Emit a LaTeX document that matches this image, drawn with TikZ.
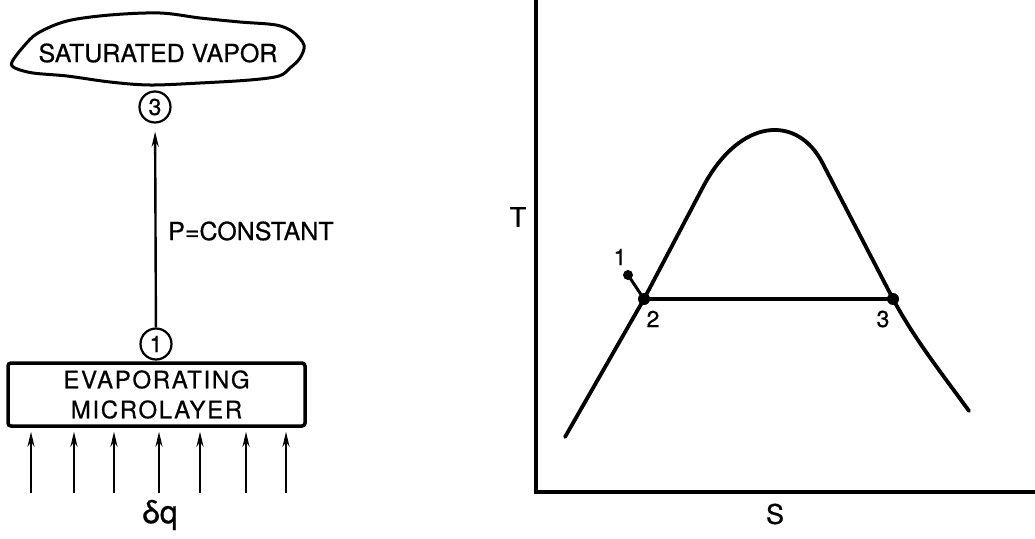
\documentclass[tikz,border=0pt]{standalone}
\usepackage{fontspec}
\setmainfont[FakeBold=0.6]{TeX Gyre Heros}
\usetikzlibrary{arrows.meta}
\begin{document}
\begin{tikzpicture}[x=1pt,y=-1pt,
  heavy/.style={line width=3.8pt,line cap=round,line join=round},
  thinarrow/.style={line width=2.4pt,-{Stealth[length=15pt,width=7pt]}},
  state/.style={draw,circle,line width=2.2pt,minimum size=31pt,inner sep=0pt,font=\fontsize{23}{24}\selectfont},
  lbl/.style={inner sep=0pt,font=\fontsize{25}{28}\selectfont},
  axlbl/.style={inner sep=0pt,font=\fontsize{27}{30}\selectfont},
  ptlbl/.style={inner sep=0pt,font=\fontsize{23}{24}\selectfont},
  dot/.style={circle,fill,inner sep=0pt,minimum size=12pt}
]
\useasboundingbox (0,0) rectangle (1035,538);

% ---------- left: cloud ----------
\draw[line width=3pt,line join=round]
  plot[smooth cycle,tension=0.55] coordinates {
   (12,62) (24,46) (38,33) (67,21) (110,15) (160,13) (200,18) (240,22)
   (276,25) (293,32) (304,45) (300,58) (290,68) (279,76) (250,80)
   (200,83) (150,85) (110,82) (67,76) (33,73) (15,68)};
\node[lbl] (vap) at (158,53) {SATURATED VAPOR};

% ---------- states ----------
\node[state] (c3) at (155,107) {3};
\node[state] (c1) at (156,344) {1};
\draw[thinarrow,shorten >=8pt] (c1) -- (c3);
\node[lbl,anchor=west] (pc) at (168,231) {P=CONSTANT};

% ---------- microlayer box ----------
\node[draw,line width=3.5pt,rounded corners=3pt,minimum width=297pt,minimum height=63pt,
      inner sep=0pt,align=center,font=\fontsize{24}{30}\selectfont\addfontfeatures{LetterSpace=7}]
  (box) at (156.5,394.5) {EVAPORATING\\MICROLAYER};

\foreach \i/\xx in {1/31,2/74,3/114,4/159,5/200,6/246,7/286}{
  \coordinate (q\i) at (\xx,493);
  \draw[thinarrow,shorten >=4pt] (q\i) -- (box.south -| q\i);
}
\node[inner sep=0pt,font=\fontsize{32}{34}\selectfont] (dq) at (160,515) {δq};

% ---------- right: T-S diagram ----------
\coordinate (ytop) at (536,0);
\coordinate (O) at (536,492);
\coordinate (xend) at (1035,492);
\draw[line width=3.8pt] (ytop) -- (O) -- (xend);
\node[axlbl] (T) at (518,217) {T};
\node[axlbl] (S) at (775,514) {S};

\coordinate (p2) at (644,299);
\coordinate (p3) at (893,299);
\coordinate (p1) at (628,275);

\draw[heavy] (565,437) -- (p2) -- (703,187)
  .. controls (740,117) and (798,114) .. (823,164)
  -- (p3) .. controls (915,340) and (943,375) .. (969,411);
\draw[heavy] (p2) -- (p3);
\draw[line width=3pt] (p1) -- (p2);
\node[dot] (d2) at (p2) {};
\node[dot] (d3) at (p3) {};
\node[dot,minimum size=10pt] (d1) at (p1) {};
\node[ptlbl] (l1) at (620,257) {1};
\node[ptlbl] (l2) at (653,319) {2};
\node[ptlbl] (l3) at (883,319) {3};
\end{tikzpicture}
\end{document}
